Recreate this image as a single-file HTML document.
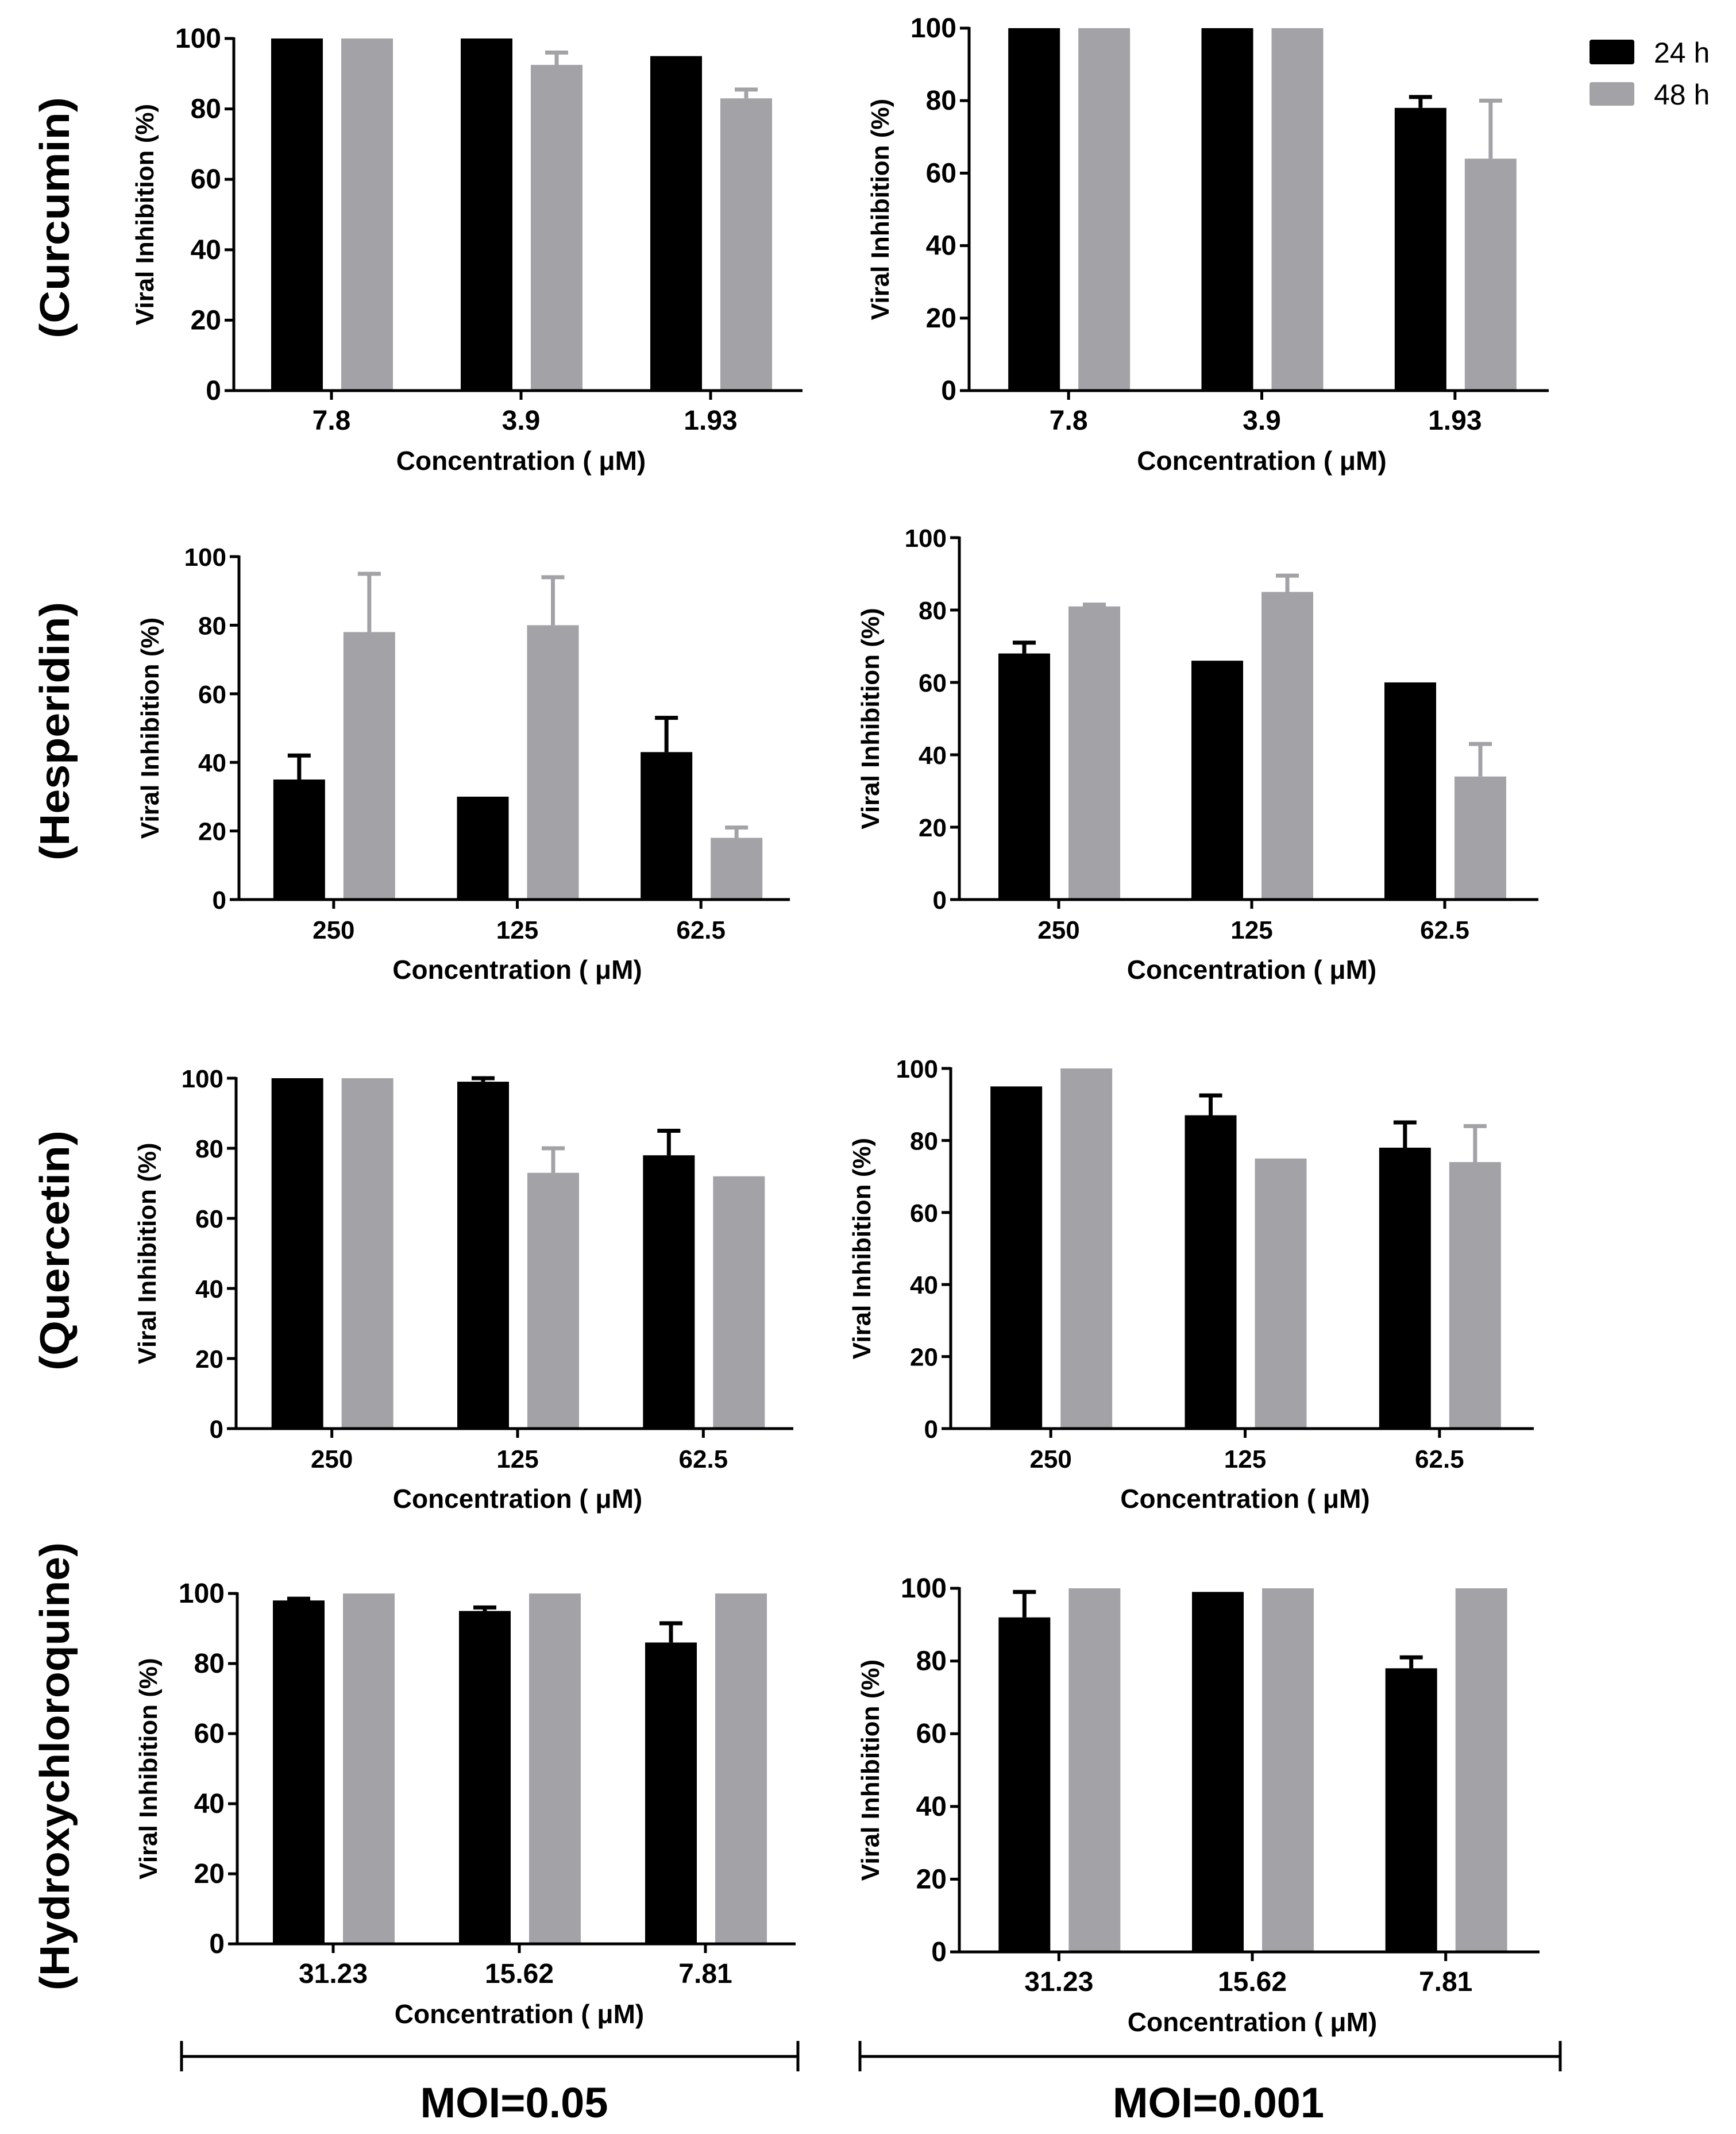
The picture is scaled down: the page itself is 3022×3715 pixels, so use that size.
<!DOCTYPE html>
<html><head><meta charset="utf-8">
<style>
html,body{margin:0;padding:0;background:#fff;}
svg{display:block;}
text{font-family:"Liberation Sans",Arial,sans-serif;font-weight:bold;fill:#000;}
.narrow{font-family:"Liberation Sans Narrow","Liberation Sans",Arial,sans-serif;}
</style></head>
<body>
<svg id="fig" width="3022" height="3715" viewBox="0 0 3022 3715" xmlns="http://www.w3.org/2000/svg">
  <g id="panels"></g>
  <text transform="translate(120,379) rotate(-90)" text-anchor="middle" font-size="72" textLength="420" lengthAdjust="spacingAndGlyphs">(Curcumin)</text>
  <text transform="translate(120,1273) rotate(-90)" text-anchor="middle" font-size="72" textLength="450" lengthAdjust="spacingAndGlyphs">(Hesperidin)</text>
  <text transform="translate(120,2177) rotate(-90)" text-anchor="middle" font-size="72" textLength="418" lengthAdjust="spacingAndGlyphs">(Quercetin)</text>
  <text transform="translate(120,3075) rotate(-90)" text-anchor="middle" font-size="72" textLength="780" lengthAdjust="spacingAndGlyphs">(Hydroxychloroquine)</text>
  <g>
    <rect x="2767" y="69" width="78" height="43" rx="4" fill="#000"/>
    <text class="narrow" x="2879" y="109" font-size="50" style="font-weight:normal">24 h</text>
    <rect x="2767" y="143" width="78" height="41" rx="4" fill="#a3a3a7"/>
    <text class="narrow" x="2879" y="182" font-size="50" style="font-weight:normal">48 h</text>
  </g>
  <g stroke="#000" stroke-width="5">
    <line x1="316" y1="3580" x2="1389" y2="3580"/>
    <line x1="316" y1="3553" x2="316" y2="3606"/>
    <line x1="1389" y1="3553" x2="1389" y2="3606"/>
  </g>
  <text class="narrow" x="895" y="3686" text-anchor="middle" font-size="74">MOI=0.05</text>
  <g stroke="#000" stroke-width="5">
    <line x1="1497" y1="3580" x2="2716" y2="3580"/>
    <line x1="1497" y1="3553" x2="1497" y2="3606"/>
    <line x1="2716" y1="3553" x2="2716" y2="3606"/>
  </g>
  <text class="narrow" x="2121" y="3686" text-anchor="middle" font-size="74">MOI=0.001</text>
</svg>
<script>
const yTicks = [0, 20, 40, 60, 80, 100];
const catCurcumin = ["7.8", "3.9", "1.93"];
const catHesperidin = ["250", "125", "62.5"];
const catQuercetin = ["250", "125", "62.5"];
const catHcq = ["31.23", "15.62", "7.81"];

const curcLow24 = [100, 100, 95];   const curcLow24Err = [0, 0, 0];
const curcLow48 = [100, 92.5, 83];  const curcLow48Err = [0, 3.5, 2.5];
const curcHigh24 = [100, 100, 78];  const curcHigh24Err = [0, 0, 3];
const curcHigh48 = [100, 100, 64];  const curcHigh48Err = [0, 0, 16];

const hespLow24 = [35, 30, 43];     const hespLow24Err = [7, 0, 10];
const hespLow48 = [78, 80, 18];     const hespLow48Err = [17, 14, 3];
const hespHigh24 = [68, 66, 60];    const hespHigh24Err = [3, 0, 0];
const hespHigh48 = [81, 85, 34];    const hespHigh48Err = [0.5, 4.5, 9];

const querLow24 = [100, 99, 78];    const querLow24Err = [0, 1, 7];
const querLow48 = [100, 73, 72];    const querLow48Err = [0, 7, 0];
const querHigh24 = [95, 87, 78];    const querHigh24Err = [0, 5.5, 7];
const querHigh48 = [100, 75, 74];   const querHigh48Err = [0, 0, 10];

const hcqLow24 = [98, 95, 86];      const hcqLow24Err = [0.5, 1, 5.5];
const hcqLow48 = [100, 100, 100];   const hcqLow48Err = [0, 0, 0];
const hcqHigh24 = [92, 99, 78];     const hcqHigh24Err = [7, 0, 3];
const hcqHigh48 = [100, 100, 100];  const hcqHigh48Err = [0, 0, 0];

const NS = "http://www.w3.org/2000/svg";
const root = document.getElementById("panels");
function mk(tag, attrs, parent) {
  const e = document.createElementNS(NS, tag);
  for (const k in attrs) e.setAttribute(k, attrs[k]);
  parent.appendChild(e);
  return e;
}

function panel(name, layout, cats, s24, e24, s48, e48, narrow) {
  const [x0, x1, yTop, yBot] = layout;
  const g = mk("g", {}, root);
  
  
  const yScale = v => yBot - (v / 100) * (yBot - yTop);
  const band = (x1 - x0) / 3;
  const xScale = i => x0 + band * (i + 0.5) + 5;
  const cls = narrow ? "narrow" : "";
  const tfs = narrow ? 48 : 44;
  const bw = 90;
  cats.forEach((c, i) => {
    const cx = xScale(i);
    [[s24, e24, "#000", cx - 60, "24h"], [s48, e48, "#a3a3a7", cx + 62, "48h"]].forEach(([s, e, col, bc, tag]) => {
      const v = s[i];
      if (e[i] > 0) {
        const ey = yScale(v + e[i]);
        const ln = mk("line", {x1: bc, x2: bc, y1: yScale(v), y2: ey, stroke: col, "stroke-width": 7}, g);
        
        
        mk("line", {x1: bc - 20, x2: bc + 20, y1: ey, y2: ey, stroke: col, "stroke-width": 7}, g);
      }
      const r = mk("rect", {x: bc - bw / 2, y: yScale(v), width: bw, height: yBot - yScale(v), fill: col}, g);
      
      
    });
    const tk = mk("line", {x1: cx, x2: cx, y1: yBot, y2: yBot + 16, stroke: "#000", "stroke-width": 5}, g);
    
    
    const t = mk("text", {x: cx, y: yBot + 68, "text-anchor": "middle", "font-size": tfs, class: cls}, g);
    
    
    t.textContent = c;
  });
  const ya = mk("line", {x1: x0, x2: x0, y1: yTop - 2, y2: yBot + 2, stroke: "#000", "stroke-width": 5}, g);
  
  
  const xa = mk("line", {x1: x0 - 16, x2: x1, y1: yBot, y2: yBot, stroke: "#000", "stroke-width": 5}, g);
  
  
  yTicks.forEach(v => {
    const y = yScale(v);
    mk("line", {x1: x0 - 16, x2: x0, y1: y, y2: y, stroke: "#000", "stroke-width": 5}, g);
    const t = mk("text", {x: x0 - 22, y: y + 16, "text-anchor": "end", "font-size": tfs, class: cls}, g);
    
    
    t.textContent = v;
  });
  const yl = mk("text", {transform: `translate(${x0 - 140},${(yTop + yBot) / 2}) rotate(-90)`, "text-anchor": "middle", "font-size": 44, class: cls}, g);
  
  
  yl.textContent = "Viral Inhibition (%)";
  const xl = mk("text", {x: xScale(1), y: yBot + 138, "text-anchor": "middle", "font-size": 46, class: cls}, g);
  
  
  xl.textContent = "Concentration ( \u03bcM)";
}

panel("curcumin-moi-0.05", [407, 1397, 67, 680], catCurcumin, curcLow24, curcLow24Err, curcLow48, curcLow48Err, true);
panel("curcumin-moi-0.001", [1687, 2696, 49, 680], catCurcumin, curcHigh24, curcHigh24Err, curcHigh48, curcHigh48Err, true);
panel("hesperidin-moi-0.05", [416, 1375, 969, 1566], catHesperidin, hespLow24, hespLow24Err, hespLow48, hespLow48Err, false);
panel("hesperidin-moi-0.001", [1670, 2678, 936, 1566], catHesperidin, hespHigh24, hespHigh24Err, hespHigh48, hespHigh48Err, false);
panel("quercetin-moi-0.05", [411, 1381, 1877, 2487], catQuercetin, querLow24, querLow24Err, querLow48, querLow48Err, false);
panel("quercetin-moi-0.001", [1655, 2670, 1860, 2487], catQuercetin, querHigh24, querHigh24Err, querHigh48, querHigh48Err, false);
panel("hcq-moi-0.05", [413, 1385, 2774, 3384], catHcq, hcqLow24, hcqLow24Err, hcqLow48, hcqLow48Err, true);
panel("hcq-moi-0.001", [1670, 2680, 2765, 3398], catHcq, hcqHigh24, hcqHigh24Err, hcqHigh48, hcqHigh48Err, true);
</script>
</body></html>
